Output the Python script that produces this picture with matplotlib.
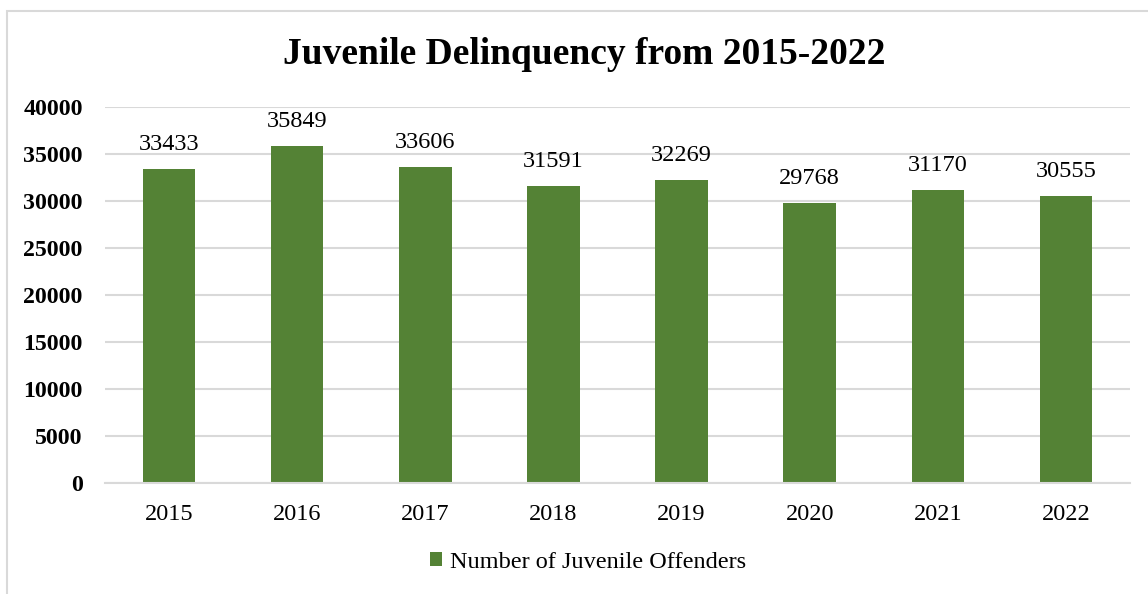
import matplotlib
matplotlib.use("Agg")
import matplotlib.pyplot as plt
from matplotlib.patches import Rectangle

years = ["2015", "2016", "2017", "2018", "2019", "2020", "2021", "2022"]
offenders = [33433, 35849, 33606, 31591, 32269, 29768, 31170, 30555]
series_name = "Number of Juvenile Offenders"
title = "Juvenile Delinquency from 2015-2022"
yticks = [0, 5000, 10000, 15000, 20000, 25000, 30000, 35000, 40000]

plt.rcParams['font.family'] = ['Liberation Serif', 'DejaVu Serif']

W, H = 1148, 594
fig = plt.figure(figsize=(W / 100, H / 100), dpi=100)
fig.patch.set_facecolor("white")

# outer chart border (top and left visible)
fig.patches.append(Rectangle((7 / W, -0.05), 1.1, (H - 10.5) / H + 0.05,
                             transform=fig.transFigure, fill=False,
                             edgecolor="#d9d9d9", linewidth=1.5))

ax = fig.add_axes([105 / W, (H - 483) / H, (1130 - 105) / W, (483 - 107) / H])
green = "#548235"
x = range(len(years))
bars = ax.bar(x, offenders, width=0.41, color=green, zorder=3, label=series_name)
ax.set_xlim(-0.5, len(years) - 0.5)
ax.set_ylim(0, 40000)
ax.set_yticks(yticks)
ax.set_yticklabels([str(v) for v in yticks], fontweight="bold", fontsize=17.2)
ax.set_xticks(list(x))
ax.set_xticklabels(years, fontsize=17.5)
ax.tick_params(axis="y", length=0, pad=16)
ax.tick_params(axis="x", length=0, pad=15)
ax.grid(axis="y", color="#d9d9d9", linewidth=1.5, zorder=0)
for s in ["top", "right", "left"]:
    ax.spines[s].set_visible(False)
ax.spines["bottom"].set_color("#d9d9d9")
ax.spines["bottom"].set_linewidth(1.5)
ax.spines["bottom"].set_zorder(4)

for xi, v in zip(x, offenders):
    ax.annotate(str(v), (xi, v), xytext=(0, 10), textcoords="offset points",
                ha="center", va="bottom", fontsize=17.5)

fig.text(0.5 * (283 + 885) / W, (H - 55) / H, title, ha="center", va="center",
         fontsize=27, fontweight="bold")

leg = fig.legend(handles=[bars], labels=[series_name], loc="center",
                 bbox_to_anchor=(588 / W, (H - 562) / H), frameon=False,
                 fontsize=17.5, handlelength=0.5, handleheight=0.5, handletextpad=0.3)

fig.savefig("out.png", dpi=100)
